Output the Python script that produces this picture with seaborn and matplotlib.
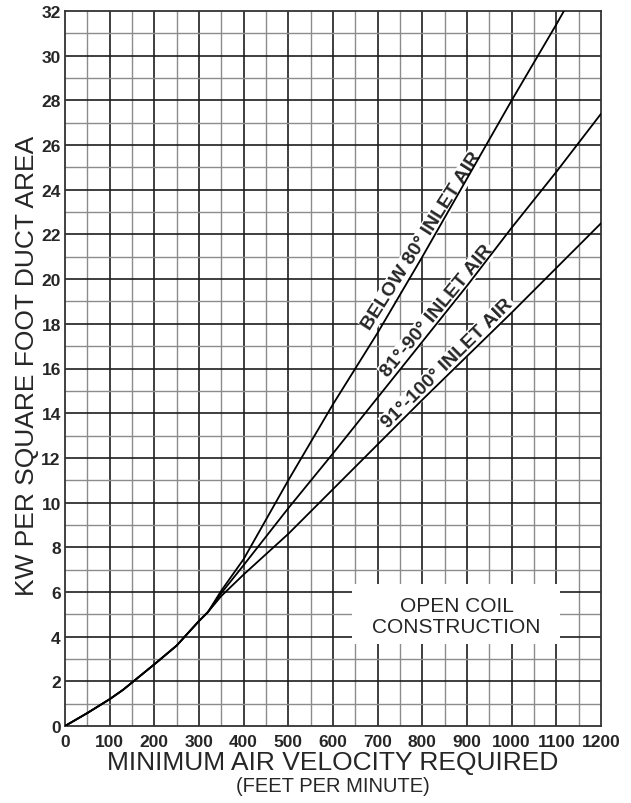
import numpy as np
import pandas as pd
import matplotlib
matplotlib.use("Agg")
import matplotlib.pyplot as plt
from matplotlib.patches import Rectangle
import seaborn as sns

# Shared part of the three curves (below ~320 fpm they coincide)
velocity_common = [0, 50, 100, 130, 200, 250, 300, 320]
kw_common = [0, 0.58, 1.2, 1.62, 2.76, 3.6, 4.7, 5.1]

# Branches after the split
below80_velocity = [350, 400, 500, 600, 700, 800, 900, 1000, 1100, 1117]
below80_kw = [6.06, 7.47, 11.0, 14.4, 17.6, 21.0, 24.5, 28.0, 31.4, 32.0]

branch_velocity = [350, 400, 500, 600, 700, 800, 900, 1000, 1100, 1200]
inlet_81_90_kw = [5.95, 7.2, 9.75, 12.2, 14.7, 17.2, 19.7, 22.3, 24.8, 27.4]
inlet_91_100_kw = [5.82, 6.78, 8.6, 10.6, 12.6, 14.6, 16.55, 18.5, 20.5, 22.5]

curve_names = ["BELOW 80° INLET AIR", "81°-90° INLET AIR", "91°-100° INLET AIR"]

x_ticks = list(range(0, 1201, 100))
y_ticks = list(range(0, 33, 2))


def build_frame() -> pd.DataFrame:
    branches = [
        (below80_velocity, below80_kw),
        (branch_velocity, inlet_81_90_kw),
        (branch_velocity, inlet_91_100_kw),
    ]
    rows = []
    for name, (vx, vy) in zip(curve_names, branches):
        xs = velocity_common + vx
        ys = kw_common + vy
        for i, (a, b) in enumerate(zip(xs, ys)):
            rows.append({"curve": name, "order": i, "velocity": a, "kw": b})
    return pd.DataFrame(rows)


def main():
    sns.set_style("white")
    plt.rcParams["font.family"] = ["Liberation Sans", "DejaVu Sans"]

    df = build_frame()

    fig = plt.figure(figsize=(6.31, 8.04), dpi=100)
    ax = fig.add_axes([65 / 631, 1 - 727 / 804, 536 / 631, 715 / 804])

    # grid: every 50 fpm / 1 kW, darker every 100 fpm / 2 kW
    for v in range(50, 1200, 50):
        major = v % 100 == 0
        ax.axvline(v, color="#1e1e1e" if major else "#8c8c8c",
                   lw=1.2 if major else 1.0, zorder=1)
    for k in range(1, 32):
        major = k % 2 == 0
        ax.axhline(k, color="#1e1e1e" if major else "#8c8c8c",
                   lw=1.2 if major else 1.0, zorder=1)

    sns.lineplot(
        data=df, x="velocity", y="kw", hue="curve", units="curve",
        estimator=None, sort=False, palette=["black"] * 3,
        legend=False, lw=1.3, ax=ax, zorder=4,
    )

    ax.set_xlim(0, 1200)
    ax.set_ylim(0, 32)
    ax.set_xticks(x_ticks)
    ax.set_yticks(y_ticks)
    ax.tick_params(length=0, labelsize=12.5)
    ax.tick_params(axis="x", pad=6)
    ax.tick_params(axis="y", pad=3)
    for lab in ax.get_xticklabels() + ax.get_yticklabels():
        lab.set_fontweight("bold")
    for s in ax.spines.values():
        s.set_color("#333333")
        s.set_linewidth(1.3)

    ax.set_xlabel("")
    ax.set_ylabel("KW PER SQUARE FOOT DUCT AREA", fontsize=19)
    ax.yaxis.set_label_coords(-0.049, 0.505)
    ax.text(0.5, -0.05, "MINIMUM AIR VELOCITY REQUIRED", transform=ax.transAxes,
            ha="center", va="center", fontsize=19)
    ax.text(0.5, -0.083, "(FEET PER MINUTE)", transform=ax.transAxes,
            ha="center", va="center", fontsize=14.5)

    # curve labels
    label_pos = [(799, 21.75, 57.5), (833, 18.6, 50.5), (857, 16.25, 44.6)]
    for name, (lx, ly, rot) in zip(curve_names, label_pos):
        ax.text(lx, ly, name, rotation=rot, rotation_mode="anchor",
                ha="center", va="center", fontsize=14, fontweight="bold",
                bbox=dict(facecolor="white", edgecolor="none", pad=0.8),
                zorder=3)

    # note box
    ax.add_patch(Rectangle((642, 3.67), 466, 2.69, facecolor="white",
                           edgecolor="none", zorder=2))
    ax.text(877, 4.92, "OPEN COIL\nCONSTRUCTION", ha="center", va="center",
            fontsize=15, linespacing=1.15, zorder=3)

    fig.savefig("out.png", dpi=100)
    plt.close(fig)


if __name__ == "__main__":
    main()
